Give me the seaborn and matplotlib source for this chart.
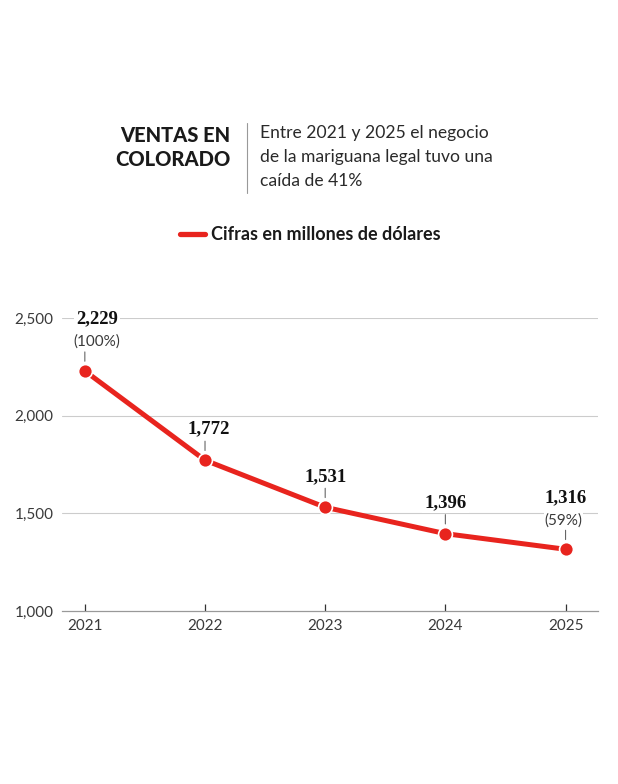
import matplotlib
matplotlib.use("Agg")
import matplotlib.pyplot as plt
import seaborn as sns
import pandas as pd
from matplotlib.lines import Line2D

years = [2021, 2022, 2023, 2024, 2025]
sales = [2229, 1772, 1531, 1396, 1316]
value_labels = ["2,229", "1,772", "1,531", "1,396", "1,316"]
pct_labels = ["(100%)", "", "", "", "(59%)"]
y_ticks = [1000, 1500, 2000, 2500]
y_tick_labels = ["1,000", "1,500", "2,000", "2,500"]

RED = "#e8241e"
sns.set_theme(style="white")
plt.rcParams['font.family'] = ['Lato', 'DejaVu Sans']

df = pd.DataFrame({"year": years, "sales": sales})

fig = plt.figure(figsize=(6.18, 7.84), dpi=100)
ax = fig.add_axes([62/618, 1-611/784, (598-62)/618, (611-318)/784])

for yv in y_ticks[1:]:
    ax.axhline(yv, color="#cccccc", lw=0.8, zorder=0)

sns.lineplot(data=df, x="year", y="sales", ax=ax, color=RED, lw=3.6,
             marker="o", markersize=10, markerfacecolor=RED,
             markeredgecolor="white", markeredgewidth=1.2, zorder=3,
             label="Cifras en millones de dólares", legend=False, clip_on=False)

TICK_COLOR = "#3a3a3a"
ax.set_xlim(2020.81, 2025.27)
ax.set_ylim(1000, 2500)
ax.set_xticks(years)
ax.set_xticklabels([str(y) for y in years], fontsize=11, fontweight="normal", color=TICK_COLOR)
ax.set_yticks(y_ticks)
ax.set_yticklabels(y_tick_labels, fontsize=11, fontweight="normal", color=TICK_COLOR)
ax.tick_params(axis="x", direction="in", length=5, width=0.9, color="#333333", pad=6, bottom=True)
ax.tick_params(axis="y", length=0, pad=6)
ax.set_xlabel("")
ax.set_ylabel("")
for s in ["top", "right", "left"]:
    ax.spines[s].set_visible(False)
ax.spines["bottom"].set_color("#999999")
ax.spines["bottom"].set_linewidth(0.9)

label_dx = [12, 4, 0, 0, 0]  # horizontal nudge of annotation text, pixels
for x, y, vl, pl, dx in zip(years, sales, value_labels, pct_labels, label_dx):
    ax.annotate("", xy=(x, y), xycoords="data",
                xytext=(0, 19), textcoords="offset pixels",
                arrowprops=dict(arrowstyle="-", color="#666666", lw=0.8,
                                shrinkA=0, shrinkB=7))
    if pl:
        ax.annotate(pl, xy=(x, y), xytext=(dx - 2 * (dx == 0), 29), textcoords="offset pixels",
                    ha="center", va="center", fontsize=11, fontweight="normal",
                    color=TICK_COLOR, zorder=5,
                    bbox=dict(fc="white", ec="none", pad=0.5))
        off = 52
    else:
        off = 31
    ax.annotate(vl, xy=(x, y), xytext=(dx, off), textcoords="offset pixels",
                ha="center", va="center", fontsize=13.5, fontweight="bold",
                family=["Liberation Serif", "DejaVu Serif"], color="#111111",
                zorder=5, bbox=dict(fc="white", ec="none", pad=1.5))

# Title block
fig.text(230/618, 1-135/784, "VENTAS EN", ha="right", va="center",
         fontsize=14.5, fontweight="black", color="#1a1a1a")
fig.text(230/618, 1-160/784, "COLORADO", ha="right", va="center",
         fontsize=14.5, fontweight="black", color="#1a1a1a")
fig.add_artist(Line2D([247/618, 247/618], [1-123/784, 1-193/784],
                      color="#999999", lw=0.8))
for i, line in enumerate(["Entre 2021 y 2025 el negocio",
                          "de la mariguana legal tuvo una",
                          "caída de 41%"]):
    fig.text(260/618, 1-(133+24*i)/784, line, ha="left", va="center",
             fontsize=12.6, fontweight="normal", color="#2a2a2a")

# Legend
fig.add_artist(Line2D([180/618, 205/618], [1-234/784, 1-234/784],
                      color=RED, lw=3.8, solid_capstyle="round"))
fig.text(211/618, 1-234/784, "Cifras en millones de dólares", ha="left", va="center",
         fontsize=13, fontweight="bold", color="#1a1a1a")

fig.savefig("out.png", dpi=100)
